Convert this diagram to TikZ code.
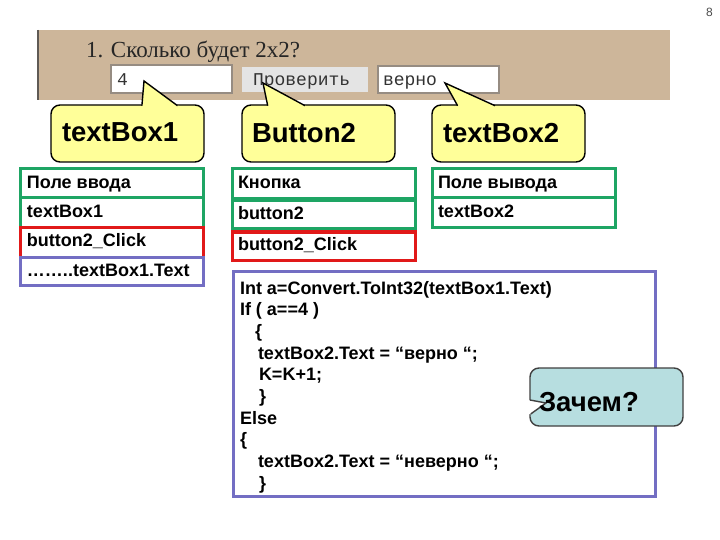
\documentclass[tikz,border=0pt]{standalone}
\usepackage{fontspec}
\setmainfont{Liberation Sans}
\newfontfamily\serifru{Liberation Serif}
\newfontfamily\monoru{Liberation Mono}
\definecolor{scrtan}{RGB}{205,182,154}
\definecolor{scrline}{RGB}{95,90,85}
\definecolor{boxgray}{RGB}{150,140,130}
\definecolor{btngray}{RGB}{228,228,228}
\definecolor{cyellow}{RGB}{255,255,153}
\definecolor{cblue}{RGB}{183,222,224}
\definecolor{cgreen}{RGB}{30,165,100}
\definecolor{cred}{RGB}{225,25,25}
\definecolor{cpurple}{RGB}{115,110,195}
\begin{document}
\begin{tikzpicture}[x=1pt,y=-1pt,
  txt/.style={anchor=base west,inner sep=0pt,outer sep=0pt},
  celltxt/.style={txt,font=\fontsize{18}{21}\selectfont\bfseries},
  codetxt/.style={txt,font=\fontsize{18}{21}\selectfont\bfseries},
  calltxt/.style={txt,font=\fontsize{27.5}{32}\selectfont\bfseries},
  monotxt/.style={txt,font=\monoru\fontsize{18}{20}\selectfont,text=black!80},
  cellframe/.style={line width=3pt},
  callbox/.style={fill=cyellow,draw=black,line width=1.4pt,rounded corners=9pt},
  callptr/.style={draw=black,line width=1.4pt,line join=miter},
  inbox/.style={fill=white,draw=boxgray,line width=1.5pt}]
\useasboundingbox (0,0) rectangle (720,540);
\fill[white] (0,0) rectangle (720,540);

% screenshot strip
\fill[scrtan] (37,30) rectangle (670,100);
\draw[scrline,line width=2.5pt] (38,30) -- (38,100);
\node[txt,font=\serifru\fontsize{23}{26}\selectfont,text=black!85] (q) at (86,58) {1. Сколько будет 2x2?};
\draw[inbox] (111,65) rectangle (232,93);
\fill[btngray] (242,67) rectangle (368,92);
\draw[inbox] (378,66) rectangle (499,93);
\node[monotxt] (four) at (117,86) {4};
\node[monotxt] (chk) at (253,86) {Проверить};
\node[monotxt] (ok) at (383,86) {верно};

% yellow callouts
\draw[callbox] (51,105) rectangle (204,162);
\fill[cyellow] (144,81) -- (141.7,107.5) -- (180.6,107.5) -- cycle;
\draw[callptr] (141.9,105.7) -- (144,81) -- (177.5,105.7);
\node[calltxt] (cb1) at (62,142) {textBox1};

\draw[callbox] (242,105) rectangle (395,162);
\fill[cyellow] (263,83) -- (268.2,107.5) -- (308.5,107.5) -- cycle;
\draw[callptr] (267.7,105.7) -- (263,83) -- (305,105.7);
\node[calltxt] (cb2) at (252,143) {Button2};

\draw[callbox] (432,105) rectangle (585,162);
\fill[cyellow] (445,83) -- (458.9,107.5) -- (498.5,107.5) -- cycle;
\draw[callptr] (457.6,105.7) -- (445,83) -- (495,105.7);
\node[calltxt] (cb3) at (443,143) {textBox2};

% left column
\draw[cellframe,draw=cgreen] (20,169) rectangle (203,198);
\draw[cellframe,draw=cgreen] (20,198) rectangle (203,228);
\draw[cellframe,draw=cred] (20,228) rectangle (203,257);
\draw[cellframe,draw=cpurple] (20,257) rectangle (203,285);
\node[celltxt] (l1) at (27,189) {Поле ввода};
\node[celltxt] (l2) at (27,218) {textBox1};
\node[celltxt] (l3) at (27,247) {button2\_Click};
\node[celltxt] (l4) at (27,276) {……..textBox1.Text};

% middle column
\draw[cellframe,draw=cgreen] (232,169) rectangle (415,199);
\draw[cellframe,draw=cgreen] (232,201) rectangle (415,229);
\draw[cellframe,draw=cred] (232,232) rectangle (415,260);
\node[celltxt] (m1) at (238,189) {Кнопка};
\node[celltxt] (m2) at (238,220) {button2};
\node[celltxt] (m3) at (238,251) {button2\_Click};

% right column
\draw[cellframe,draw=cgreen] (432,169) rectangle (615,198);
\draw[cellframe,draw=cgreen] (432,198) rectangle (615,228);
\node[celltxt] (r1) at (438,189) {Поле вывода};
\node[celltxt] (r2) at (438,218) {textBox2};

% code box
\draw[cellframe,draw=cpurple] (233,271) rectangle (655,496);
\node[codetxt] (k1) at (240,294) {Int a=Convert.ToInt32(textBox1.Text)};
\node[codetxt] (k2) at (240,315.7) {If ( a==4 )};
\node[codetxt] (k3) at (255,337.4) {\{};
\node[codetxt] (k4) at (258,359.1) {textBox2.Text = “верно “;};
\node[codetxt] (k5) at (259,380.8) {K=K+1;};
\node[codetxt] (k6) at (259,402.5) {\}};
\node[codetxt] (k7) at (240,424.2) {Else};
\node[codetxt] (k8) at (240,445.9) {\{};
\node[codetxt] (k9) at (258,467.6) {textBox2.Text = “неверно “;};
\node[codetxt] (k10) at (259,489.3) {\}};

% blue callout
\draw[fill=cblue,draw=black!75,line width=1.4pt,rounded corners=9pt] (530,368) rectangle (683,426);
\fill[white] (528,400) -- (546,403) -- (531.5,414) -- (528,414) -- cycle;
\draw[draw=black!75,line width=1.4pt,line join=miter] (530,400) -- (546,403) -- (530.7,414);
\node[calltxt] (why) at (539,411) {Зачем?};

% page number
\node[txt,font=\fontsize{12}{14}\selectfont,text=black!70] (pg) at (706,17) {8};
\end{tikzpicture}
\end{document}
